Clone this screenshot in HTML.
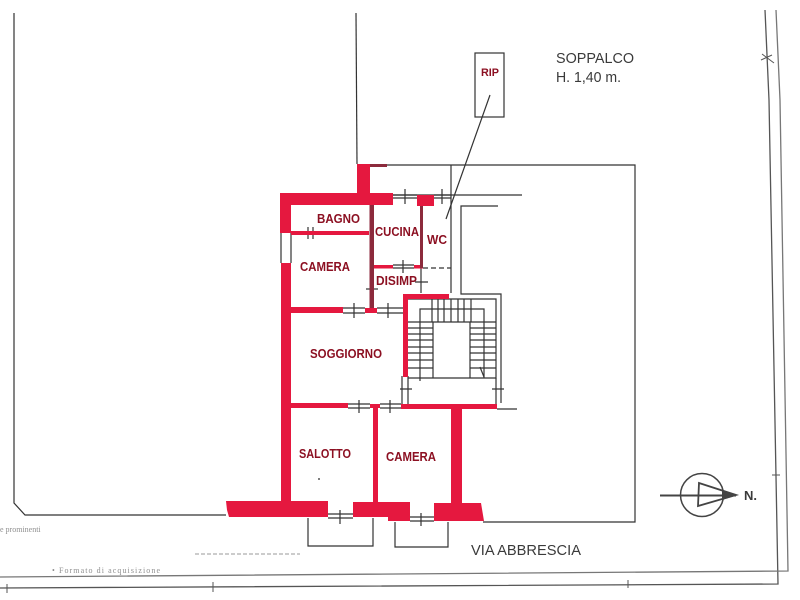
<!DOCTYPE html>
<html>
<head>
<meta charset="utf-8">
<style>
html,body{margin:0;padding:0;background:#fff;width:800px;height:600px;overflow:hidden}
svg{display:block;filter:blur(.35px)}
text{font-family:"Liberation Sans",sans-serif}
.r{font-weight:bold;fill:#8c1022;font-size:13px}
.b{fill:#3a3a3a;font-size:15px}
</style>
</head>
<body>
<svg width="800" height="600" viewBox="0 0 800 600" xmlns="http://www.w3.org/2000/svg">
<rect width="800" height="600" fill="#fff"/>

<!-- outer frame lines -->
<g fill="none" stroke="#555" stroke-width="1.3">
<path d="M765 10L769 100L778 584L0 588"/>
<path d="M776 10L780 100L788 571L0 577" stroke="#777"/>
<path d="M762 54L774 63M761 60L772 55M772 475L780 475M7 584V593M213 582V592M628 580V588" stroke-width="1"/>
</g>

<!-- site lines -->
<g fill="none" stroke="#333" stroke-width="1.2">
<path d="M14 13V503L25 515H226"/>
<path d="M356 13L357 164"/>
<path d="M370 165H635V522H483"/>
<path d="M392 195H522"/>
<path d="M451 165V293"/>
<path d="M498 206H461V294H501V403"/>
<path d="M497 409H517"/>
<rect x="475" y="53" width="29" height="64"/>
<path d="M490 95L446 219"/>
<!-- balconies -->
<path d="M308 518V546H373V518"/>
<path d="M395 522V547H448V522"/>
<path d="M328 514H353M328 518H353M340 510V524"/>
<path d="M410 517H434M410 521H434M421 513V526"/>
<!-- openings -->
<path d="M281 233V263M291 233V263"/>
<path d="M308 227V239M313 227V239"/>
<path d="M393 195H417M393 198H417M405 189V204"/>
<path d="M434 195H451M434 198H451M442 189V204"/>
<path d="M393 265H414M393 268H414M403 260V273"/>
<path d="M423 268H451" stroke-dasharray="5 3"/>
<path d="M421 268V293M415 282H428"/>
<path d="M366 289H378"/>
<path d="M343 308H365M343 313H365M354 303V318"/>
<path d="M377 308H403M377 313H403M388 303V318"/>
<path d="M348 404H370M348 408H370M359 400V413"/>
<path d="M380 404H401M380 408H401M390 400V413"/>
<path d="M402 376V404M408 376V404M400 389H412"/>
<path d="M496 378V404M492 389H504"/>
<!-- stairs -->
<path d="M408 299H496V378H408"/>
<path d="M420 381V309H484V378"/>
<path d="M433 322H470V378M433 322V378"/>
<path d="M432 299V322M438 299V322M444 299V322M451 299V322M458 299V322M464 299V322M471 299V322"/>
<path d="M408 322H433M408 328H433M408 334H433M408 340H433M408 347H433M408 353H433M408 360H433M408 368H433"/>
<path d="M470 322H496M470 328H496M470 334H496M470 340H496M470 347H496M470 353H496M470 360H496M470 368H496"/>
<path d="M480 367L484 377"/>
</g>

<!-- red walls -->
<g fill="#e5183f">
<rect x="357" y="164" width="13" height="30"/>
<rect x="280" y="193" width="113" height="12"/>
<rect x="280" y="193" width="11" height="40"/>
<rect x="281" y="263" width="10" height="240"/>
<rect x="291" y="231" width="78" height="4"/>
<rect x="291" y="307" width="52" height="6"/>
<rect x="365" y="308" width="12" height="5"/>
<rect x="417" y="195" width="17" height="11"/>
<rect x="374" y="265" width="19" height="3.5"/>
<rect x="414" y="265" width="9" height="3.5"/>
<rect x="403" y="294" width="46" height="5"/>
<rect x="403" y="294" width="5" height="83"/>
<rect x="291" y="403" width="57" height="5"/>
<rect x="370" y="404" width="10" height="4"/>
<rect x="401" y="404" width="96" height="5"/>
<rect x="373" y="405" width="5" height="98"/>
<rect x="451" y="408" width="11" height="95"/>
<path d="M226 501H328V517H229L227 510Z"/>
<path d="M353 502H410V521H388V517H353Z"/>
<path d="M434 503H481L483 515L484 521H434Z"/>
</g>
<g fill="#8c2a3c">
<rect x="370" y="164" width="17" height="3"/>
<rect x="369.500" y="205" width="4.500" height="103"/>
<rect x="420" y="206" width="3" height="62"/>
</g>

<!-- compass -->
<g fill="none" stroke="#444">
<circle cx="702" cy="495" r="21.500" stroke-width="1.500"/>
<path d="M699 483L698 506L736 495Z" stroke-width="1.800"/>
<path d="M660 495.500H736" stroke-width="2"/>
</g>
<path d="M722 490L738 495L722 500Z" fill="#444"/>

<!-- labels -->
<text class="r" x="317" y="223" textLength="43" lengthAdjust="spacingAndGlyphs">BAGNO</text>
<text class="r" x="375" y="236" textLength="44" lengthAdjust="spacingAndGlyphs">CUCINA</text>
<text class="r" x="427" y="244" textLength="20" lengthAdjust="spacingAndGlyphs">WC</text>
<text class="r" x="300" y="271" textLength="50" lengthAdjust="spacingAndGlyphs">CAMERA</text>
<text class="r" x="376" y="285" textLength="41" lengthAdjust="spacingAndGlyphs">DISIMP</text>
<text class="r" x="310" y="358" textLength="72" lengthAdjust="spacingAndGlyphs">SOGGIORNO</text>
<text class="r" x="299" y="458" textLength="52" lengthAdjust="spacingAndGlyphs">SALOTTO</text>
<text class="r" x="386" y="461" textLength="50" lengthAdjust="spacingAndGlyphs">CAMERA</text>
<text class="r" x="481" y="76" textLength="18" lengthAdjust="spacingAndGlyphs" style="font-size:11px">RIP</text>

<text class="b" x="556" y="63" textLength="78" lengthAdjust="spacingAndGlyphs">SOPPALCO</text>
<text class="b" x="556" y="82" textLength="65" lengthAdjust="spacingAndGlyphs">H. 1,40 m.</text>
<text class="b" x="471" y="555" textLength="110" lengthAdjust="spacingAndGlyphs">VIA ABBRESCIA</text>
<text class="b" x="744" y="500" style="font-weight:bold;font-size:13px">N.</text>

<!-- faint scan remnants -->
<g opacity=".6">
<text x="0" y="532" style="font-family:'Liberation Serif',serif;font-size:8px;fill:#444">e prominenti</text>
<text x="52" y="573" style="font-family:'Liberation Serif',serif;font-size:8px;fill:#444" textLength="108" lengthAdjust="spacing">• Formato di acquisizione</text>
</g>
<path d="M195 554H300" stroke="#999" stroke-width="1" stroke-dasharray="4 2" fill="none"/>
<circle cx="319" cy="479" r="1" fill="#555"/>
</svg>
</body>
</html>
